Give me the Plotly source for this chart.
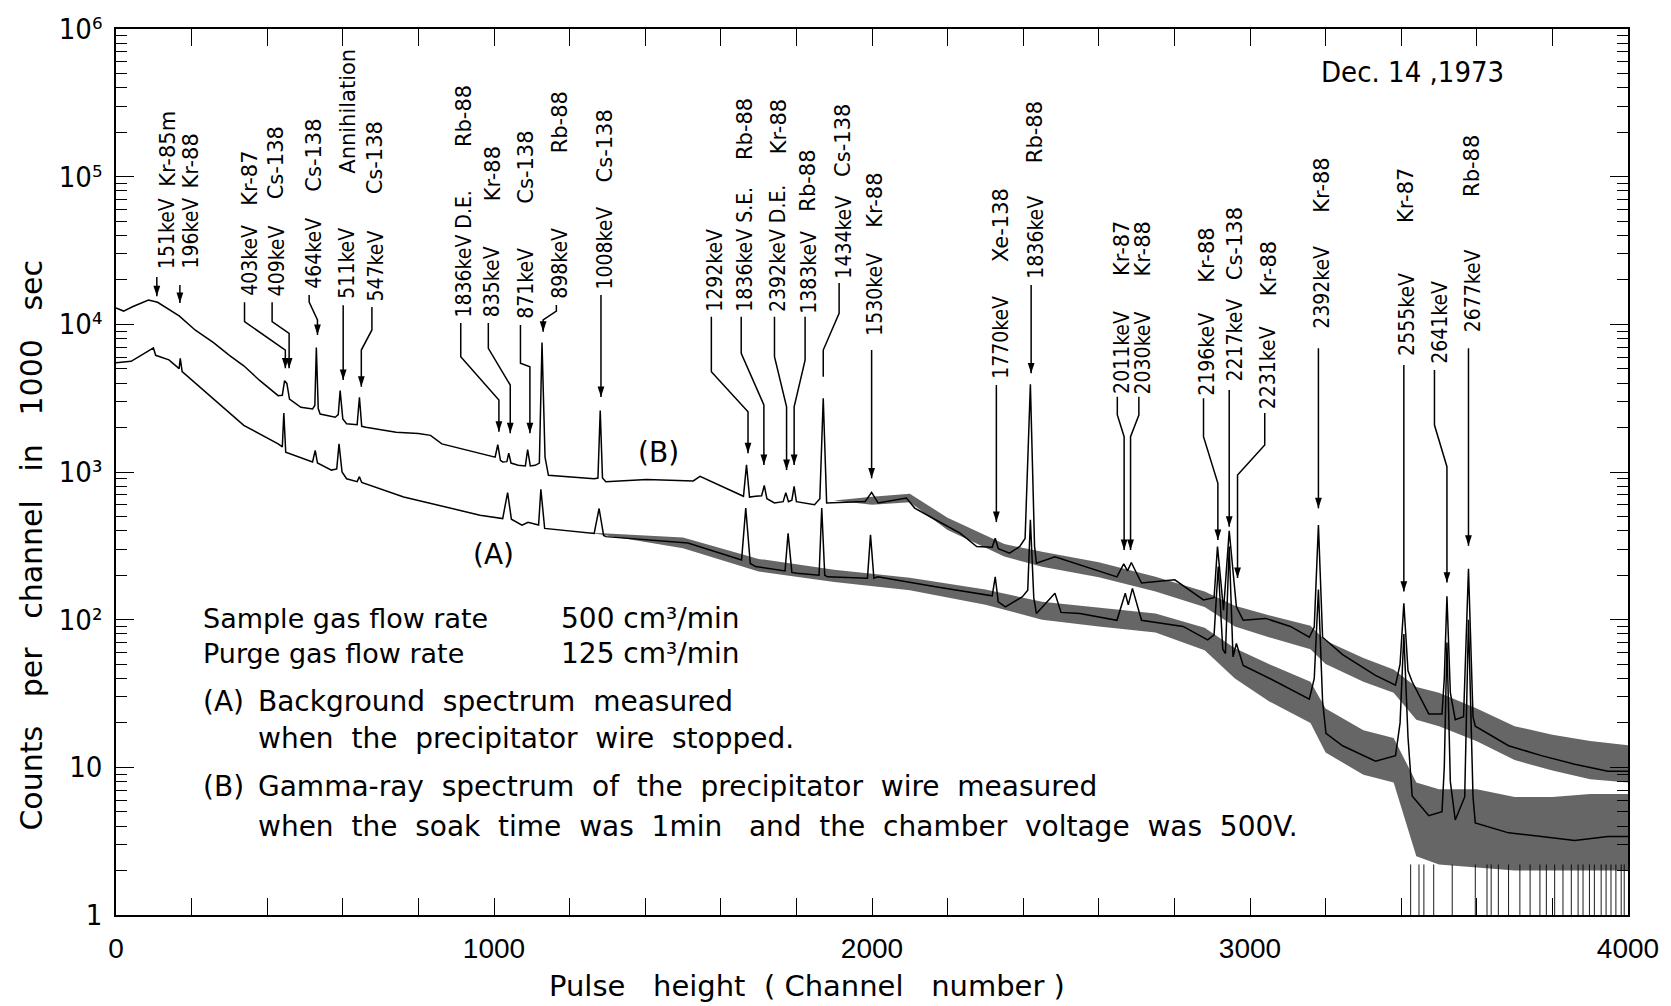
import plotly.graph_objects as go

NB = "\u00a0"

# ---------------------------------------------------------------------------
# Axis ticks
# ---------------------------------------------------------------------------
x_label_values = [0, 1000, 2000, 3000, 4000]
x_label_text = ["0", "1000", "2000", "3000", "4000"]
x_tick_values = [0, 200, 400, 600, 800, 1000, 1200, 1400, 1600, 1800, 2000,
                 2200, 2400, 2600, 2800, 3000, 3200, 3400, 3600, 3800, 4000]
y_label_values = [1, 10, 100, 1000, 10000, 100000, 1000000]
y_label_text = ["1", "10", "10²", "10³", "10⁴", "10⁵", "10⁶"]
y_minor_digits = [2, 3, 4, 5, 6, 7, 8, 9]
y_decades = [1, 10, 100, 1000, 10000, 100000]

# ---------------------------------------------------------------------------
# (B) gamma-ray spectrum of the precipitator wire
# ---------------------------------------------------------------------------
b_channel = [0, 20, 45, 86, 110, 135, 167, 210, 258, 300, 338, 380, 429, 440, 446,
             452, 459, 489, 520, 526, 530, 535, 540, 580, 588, 593, 600, 610, 638,
             644, 650, 661, 741, 800, 832, 862, 963, 1003, 1010, 1017, 1023, 1034,
             1039, 1045, 1064, 1083, 1089, 1096, 1109, 1120, 1127, 1135, 1144, 1265,
             1275, 1281, 1287, 1296, 1404, 1527, 1545, 1622, 1660, 1668, 1676, 1692,
             1708, 1715, 1722, 1742, 1765, 1772, 1779, 1788, 1794, 1800, 1848, 1862,
             1871, 1880, 1982, 1999, 2016, 2091, 2113, 2168, 2233, 2277, 2318, 2326,
             2334, 2364, 2391, 2405, 2419, 2430, 2435, 2484, 2604, 2648, 2666, 2676,
             2686, 2713, 2801, 2877, 2905, 2914, 2930, 2945, 2964, 2982, 3041, 3107,
             3157, 3170, 3181, 3192, 3245, 3332, 3385, 3397, 3407, 3418, 3429, 3473,
             3508, 3514, 3521, 3530, 3543, 3565, 3578, 3590, 3596, 3684, 3771, 3859,
             3947, 4000]
b_counts = [12900, 12300, 13200, 14600, 14100, 12900, 11400, 9120, 7520, 6170, 5240,
            4170, 3290, 3310, 4150, 3980, 3120, 2740, 2670, 2820, 6970, 2690, 2470,
            2350, 2450, 3560, 2290, 2120, 2090, 3210, 2040, 2010, 1860, 1820, 1770,
            1550, 1330, 1260, 1530, 1200, 1170, 1175, 1340, 1150, 1110, 1100, 1420,
            1100, 1110, 1150, 7520, 1260, 950, 900, 910, 2610, 910, 860, 890, 870,
            935, 760, 685, 1120, 676, 685, 690, 810, 660, 617, 630, 725, 630, 645,
            800, 630, 600, 660, 3160, 617, 632, 728, 617, 667, 570, 475, 385, 313,
            309, 356, 302, 282, 313, 355, 3930, 316, 241, 267, 211, 195, 239, 214,
            244, 177, 186, 136, 141, 313, 116, 400, 122, 99, 102, 90, 76, 89, 437,
            76, 58, 42, 36, 50, 129, 45, 38, 23, 23, 40, 144, 32, 21, 22, 221, 22,
            19, 14, 12, 10.5, 9.4, 9.4]

# channel-to-channel scatter of (B)
b_band_channel = [1900, 2000, 2100, 2200, 2350, 2450, 2600, 2750, 2880, 2960,
                  3050, 3160, 3200, 3300, 3380, 3440, 3500, 3600, 3700, 3800, 3900, 4000]
b_band_low = [640, 600, 625, 405, 268, 228, 194, 155, 122, 90,
              76, 63, 50, 38, 32, 21, 19, 15, 11.2, 9.5, 8.3, 7.9]
b_band_high = [640, 680, 712, 490, 325, 288, 245, 195, 155, 124,
               107, 91, 72, 55, 46, 35, 32, 25, 19, 16.6, 15.1, 14.1]

# ---------------------------------------------------------------------------
# (A) background spectrum, precipitator wire stopped
# ---------------------------------------------------------------------------
a_channel = [0, 40, 86, 99, 105, 140, 167, 170, 175, 258, 338, 429, 440, 444, 449,
             520, 527, 533, 570, 584, 590, 598, 610, 638, 644, 650, 761, 963, 1023,
             1036, 1046, 1074, 1090, 1118, 1124, 1134, 1265, 1278, 1290, 1296, 1404,
             1513, 1655, 1666, 1678, 1692, 1770, 1778, 1788, 1802, 1860, 1867, 1875,
             1882, 1988, 1996, 2005, 2015, 2168, 2318, 2326, 2334, 2353, 2398, 2412,
             2419, 2428, 2435, 2484, 2500, 2550, 2648, 2670, 2678, 2689, 2713, 2823,
             2888, 2905, 2916, 2928, 2935, 2945, 2955, 2964, 2982, 3069, 3157, 3170,
             3181, 3192, 3201, 3245, 3332, 3385, 3397, 3407, 3418, 3429, 3473, 3508,
             3514, 3521, 3530, 3543, 3568, 3578, 3590, 3596, 3684, 3771, 3859, 3947,
             4000]
a_counts = [5500, 5620, 6610, 6920, 6170, 5750, 5010, 5890, 4790, 3120, 2070, 1550,
            1480, 2510, 1360, 1170, 1400, 1150, 1030, 1050, 1550, 1000, 900, 860,
            930, 850, 678, 510, 484, 726, 479, 437, 457, 437, 764, 415, 384, 566,
            372, 365, 348, 330, 254, 570, 240, 229, 214, 385, 209, 206, 200, 570,
            200, 195, 191, 376, 191, 195, 167, 145, 195, 132, 122, 143, 158, 475,
            141, 110, 151, 112, 110, 99, 151, 126, 163, 99, 90, 73, 79, 229, 63, 59,
            313, 56, 69, 49, 38, 29, 40, 160, 28, 17, 14, 11, 12, 20, 80, 16, 6.4,
            4.7, 5, 10, 70, 8, 4.4, 6.3, 100, 6.3, 4.2, 3.6, 3.4, 3.2, 3.4, 3.4]

# channel-to-channel scatter of (A)
a_band_channel = [1250, 1500, 1700, 1900, 2100, 2300, 2450, 2600, 2750, 2880,
                  2960, 3050, 3160, 3200, 3300, 3380, 3440, 3500, 3600, 3700, 3800,
                  3900, 4000]
a_band_low = [390, 305, 212, 180, 158, 126, 100, 90, 82, 62,
              40, 28, 20, 12.6, 8.9, 7.9, 2.5, 2.2, 2.1, 2.0, 2.0, 2.0, 2.0]
a_band_high = [390, 360, 258, 218, 192, 160, 132, 120, 110, 88,
               64, 50, 38, 25, 17.8, 15.8, 7.9, 7.1, 7.1, 6.3, 6.3, 6.6, 6.6]

# channels of (A) that recorded no counts (drop below the axis)
a_empty_channel = [3425, 3447, 3460, 3486, 3535, 3596, 3627, 3638, 3657, 3684, 3714,
                   3741, 3767, 3784, 3806, 3828, 3850, 3868, 3881, 3898, 3911, 3929,
                   3942, 3955, 3968, 3982, 3990]

# ---------------------------------------------------------------------------
# Peak identifications.  Heights are given in decades (log10 counts).
# (energy, nuclide, text channel, energy-text foot, nuclide-text top,
#  leader path [(channel, decade), ...], arrow head)
# ---------------------------------------------------------------------------
peak_labels = [
    ("151keV", "Kr-85m", 126, 4.368, 5.451, [(108, 4.32), (108, 4.19)], True),
    ("196keV", "Kr-88", 188, 4.368, 5.296, [(169, 4.266), (169, 4.144)], True),
    ("403keV", "Kr-87", 342, 4.185, 5.180,
     [(340, 4.15), (340, 4.018), (448, 3.826), (448, 3.702)], True),
    ("409keV", "Cs-138", 415, 4.185, 5.350,
     [(413, 4.15), (413, 4.018), (458, 3.939), (458, 3.702)], True),
    ("464keV", "Cs-138", 511, 4.232, 5.397,
     [(511, 4.199), (511, 4.15), (533, 4.03), (533, 3.928)], True),
    ("511keV", "Annihilation", 601, 4.165, 5.871, [(601, 4.13), (601, 3.623)], True),
    ("547keV", "Cs-138", 677, 4.151, 5.384,
     [(677, 4.117), (677, 3.962), (649, 3.826), (649, 3.578)], True),
    ("1836keV D.E.", "Rb-88", 910, 4.043, 5.627,
     [(912, 4.009), (912, 3.781), (1013, 3.488), (1013, 3.273)], True),
    ("835keV", "Kr-88", 986, 4.043, 5.214,
     [(985, 4.009), (985, 3.838), (1043, 3.589), (1043, 3.262)], True),
    ("871keV", "Cs-138", 1072, 4.029, 5.316,
     [(1070, 3.995), (1070, 3.736), (1095, 3.713), (1095, 3.262)], True),
    ("898keV", "Rb-88", 1165, 4.165, 5.587,
     [(1165, 4.131), (1165, 4.09), (1130, 4.03), (1130, 3.95)], True),
    ("1008keV", "Cs-138", 1283, 4.232, 5.465, [(1283, 4.199), (1283, 3.508)], True),
    ("1292keV", "", 1575, 4.077, None,
     [(1575, 4.052), (1575, 3.679), (1672, 3.408), (1672, 3.127)], True),
    ("1836keV S.E.", "Rb-88", 1654, 4.077, 5.541,
     [(1654, 4.052), (1654, 3.804), (1714, 3.454), (1714, 3.047)], True),
    ("2392keV D.E.", "Kr-88", 1742, 4.077, 5.531,
     [(1742, 4.052), (1742, 3.781), (1774, 3.442), (1774, 3.013)], True),
    ("1383keV", "Rb-88", 1821, 4.063, 5.192,
     [(1823, 4.052), (1823, 3.758), (1794, 3.442), (1794, 3.047)], True),
    ("1434keV", "Cs-138", 1913, 4.300, 5.497,
     [(1913, 4.280), (1913, 4.075), (1871, 3.826), (1871, 3.645)], False),
    ("1530keV", "Kr-88", 1999, 3.916, 5.034, [(1999, 3.826), (1999, 2.957)], True),
    ("1770keV", "Xe-138", 2329, 3.623, 4.932, [(2329, 3.589), (2329, 2.661)], True),
    ("1836keV", "Rb-88", 2421, 4.300, 5.519, [(2421, 4.266), (2421, 3.668)], True),
    ("2011keV", "Kr-87", 2649, 3.521, 4.706,
     [(2649, 3.510), (2649, 3.386), (2667, 3.239), (2667, 2.472)], True),
    ("2030keV", "Kr-88", 2706, 3.521, 4.706,
     [(2706, 3.510), (2706, 3.386), (2684, 3.239), (2684, 2.472)], True),
    ("2196keV", "Kr-88", 2877, 3.510, 4.661,
     [(2877, 3.499), (2877, 3.239), (2915, 2.923), (2915, 2.539)], True),
    ("2217keV", "Cs-138", 2950, 3.603, 4.797, [(2945, 3.555), (2945, 2.630)], True),
    ("2231keV", "Kr-88", 3039, 3.420, 4.571,
     [(3039, 3.399), (3039, 3.183), (2967, 2.980), (2967, 2.282)], True),
    ("2392keV", "Kr-88", 3181, 3.962, 5.135, [(3181, 3.838), (3181, 2.754)], True),
    ("2555keV", "Kr-87", 3404, 3.781, 5.067, [(3407, 3.724), (3407, 2.19)], True),
    ("2641keV", "", 3490, 3.724, None,
     [(3488, 3.690), (3488, 3.318), (3521, 3.036), (3521, 2.251)], True),
    ("2677keV", "Rb-88", 3578, 3.939, 5.293, [(3578, 3.838), (3578, 2.50)], True),
]

# ---------------------------------------------------------------------------
# Styles
# ---------------------------------------------------------------------------
INK = "black"
energy_font = dict(family="DejaVu Sans Condensed, DejaVu Sans, sans-serif", size=21, color=INK)
nuclide_font = dict(family="DejaVu Sans, sans-serif", size=21, color=INK)
note_font = dict(family="DejaVu Sans, sans-serif", size=28, color=INK)


def gaps(text, n):
    """Wide word spacing of the lettering: each blank becomes n fixed spaces."""
    return text.replace(" ", NB * n)


fig = go.Figure()


def add_band(ch, low, high):
    fig.add_trace(go.Scatter(x=ch, y=low, mode="lines", line=dict(width=0),
                             hoverinfo="skip", showlegend=False))
    fig.add_trace(go.Scatter(x=ch, y=high, mode="lines", line=dict(width=0),
                             fill="tonexty", fillcolor="rgba(0,0,0,0.6)",
                             hoverinfo="skip", showlegend=False))


add_band(a_band_channel, a_band_low, a_band_high)
add_band(b_band_channel, b_band_low, b_band_high)

# empty channels of (A): vertical strokes down to the axis
drop_x, drop_y = [], []
for c in a_empty_channel:
    drop_x += [c, c, None]
    drop_y += [2.2, 1, None]
fig.add_trace(go.Scatter(x=drop_x, y=drop_y, mode="lines", xaxis="x2", yaxis="y2",
                         line=dict(color=INK, width=0.9), hoverinfo="skip",
                         showlegend=False))

fig.add_trace(go.Scatter(x=a_channel, y=a_counts, mode="lines", name="(A)",
                         line=dict(color=INK, width=1.5), showlegend=False))
fig.add_trace(go.Scatter(x=b_channel, y=b_counts, mode="lines", name="(B)",
                         line=dict(color=INK, width=1.5), showlegend=False))

# peak labels, leaders and arrows
head_x, head_y = [], []
for energy, nuclide, col, foot, top, path, head in peak_labels:
    fig.add_annotation(x=col, y=foot, text=energy, textangle=-90, xshift=4,
                       xanchor="center", yanchor="bottom", showarrow=False,
                       font=energy_font, borderpad=0)
    if nuclide:
        fig.add_annotation(x=col, y=top, text=nuclide, textangle=-90, xshift=4,
                           xanchor="center", yanchor="top", showarrow=False,
                           font=nuclide_font, borderpad=0)
    fig.add_trace(go.Scatter(x=[p[0] for p in path], y=[10 ** p[1] for p in path],
                             mode="lines", line=dict(color=INK, width=1.5),
                             hoverinfo="skip", showlegend=False))
    if head:
        head_x.append(path[-1][0])
        head_y.append(10 ** path[-1][1])

fig.add_trace(go.Scatter(x=head_x, y=head_y, mode="markers", hoverinfo="skip",
                         marker=dict(symbol="arrow", angle=180, size=11, color=INK,
                                     line=dict(width=0)),
                         showlegend=False))

# curve identifiers
fig.add_annotation(x=1435, y=3.132, text="(B)", showarrow=False,
                   font=dict(family="DejaVu Sans, sans-serif", size=28, color=INK))
fig.add_annotation(x=999, y=2.438, text="(A)", showarrow=False,
                   font=dict(family="DejaVu Sans, sans-serif", size=28, color=INK))

# date
fig.add_annotation(x=3430, y=5.709, text="Dec." + NB + "14" + NB + ",1973",
                   showarrow=False,
                   font=dict(family="DejaVu Sans Condensed, DejaVu Sans, sans-serif",
                             size=29, color=INK))

# measurement notes
notes = [
    (0.0565, 0.3349, "Sample gas flow rate", 27),
    (0.2928, 0.3349, "500" + NB + "cm³/min", 28),
    (0.0565, 0.2954, "Purge gas flow rate", 27),
    (0.2928, 0.2954, "125" + NB + "cm³/min", 28),
    (0.0565, 0.2407, "(A)", 28),
    (0.0927, 0.2407, gaps("Background spectrum measured", 2), 28),
    (0.0927, 0.1994, gaps("when the precipitator wire stopped.", 2), 28),
    (0.0565, 0.1448, "(B)", 28),
    (0.0927, 0.1448, gaps("Gamma-ray spectrum of the precipitator wire measured", 2), 28),
    (0.0927, 0.0997, gaps("when the soak time was 1min", 2) + NB * 3
     + gaps("and the chamber voltage was 500V.", 2), 28),
]
for nx, ny, txt, size in notes:
    fig.add_annotation(xref="paper", yref="paper", x=nx, y=ny,
                       text=txt.replace(" ", NB),
                       xanchor="left", yanchor="middle", showarrow=False,
                       font=dict(note_font, size=size))

# axis titles
fig.add_annotation(xref="paper", yref="paper", x=0.457, y=-0.080,
                   text="Pulse" + NB * 3 + "height" + NB * 2 + "(" + NB + "Channel"
                        + NB * 3 + "number" + NB + ")",
                   xanchor="center", yanchor="middle", showarrow=False,
                   font=dict(family="DejaVu Sans, sans-serif", size=29, color=INK))
fig.add_annotation(xref="paper", yref="paper", x=-0.0565, y=0.4176,
                   text=gaps("Counts per channel in 1000 sec", 3), textangle=-90,
                   xanchor="center", yanchor="middle", showarrow=False,
                   font=dict(family="DejaVu Sans, sans-serif", size=30, color=INK))

axis_common = dict(showgrid=False, zeroline=False, tickcolor=INK)
fig.update_layout(
    width=1671, height=1006,
    margin=dict(l=116, r=34, t=29, b=91),
    paper_bgcolor="white", plot_bgcolor="white",
    showlegend=False,
    font=dict(family="DejaVu Sans, sans-serif", color=INK),
    xaxis=dict(
        range=[0, 4000], tickmode="array", tickvals=x_label_values,
        ticktext=x_label_text, ticks="inside", ticklen=17, tickwidth=1.2,
        showline=True, linecolor=INK, linewidth=1.6, mirror="ticks",
        ticklabelstandoff=8,
        tickfont=dict(family="Liberation Sans Narrow, Arial Narrow, sans-serif",
                      size=28, color=INK),
        **axis_common,
    ),
    # every 200 channels, bottom and top frame
    xaxis2=dict(
        range=[0, 4000], overlaying="x", anchor="y", side="bottom",
        tickmode="array", tickvals=x_tick_values, ticks="inside", ticklen=17,
        tickwidth=1.2, showticklabels=False, showline=False, mirror="ticks",
        **axis_common,
    ),
    yaxis=dict(
        type="log", range=[0, 6], tickmode="array", tickvals=y_label_values,
        ticktext=y_label_text,
        ticks="inside", ticklen=18, tickwidth=1.3,
        showline=True, linecolor=INK, linewidth=1.6, mirror="ticks",
        ticklabelstandoff=6,
        tickfont=dict(family="DejaVu Sans Condensed, DejaVu Sans, sans-serif",
                      size=29, color=INK),
        **axis_common,
    ),
    # decade subdivisions 2..9, on both the left and right frame
    yaxis2=dict(
        type="log", range=[0, 6], overlaying="y", anchor="x", side="left",
        tickmode="array", tickvals=[d * m for d in y_decades for m in y_minor_digits],
        ticks="inside", ticklen=11, tickwidth=1.1, showticklabels=False,
        showline=False, mirror="ticks",
        **axis_common,
    ),
)

fig.write_html("out.html")
